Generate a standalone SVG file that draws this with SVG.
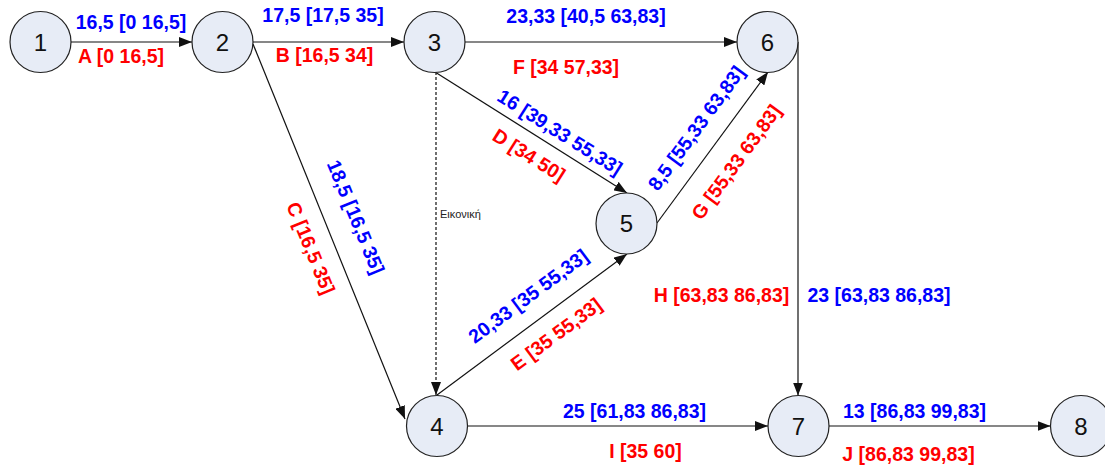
<svg xmlns="http://www.w3.org/2000/svg" width="1105" height="466" viewBox="0 0 1105 466">
<defs>
<style>
.node circle{fill:#e7ecf6;stroke:#222;stroke-width:1.2}
.node text{font-family:"Liberation Sans",Arial,sans-serif;font-size:24px;fill:#111;text-anchor:middle}
.edge{stroke:#111;stroke-width:1.2;fill:none;marker-end:url(#arr)}
.dash{stroke-dasharray:3,2}
.lb{font-family:"Liberation Sans",Arial,sans-serif;font-size:19.5px;font-weight:bold;text-anchor:middle}
.b{fill:#0000ff}
.r{fill:#ff0000}
.sm{font-family:"Liberation Sans",Arial,sans-serif;font-size:11px;fill:#222}
</style>
<marker id="arr" markerUnits="userSpaceOnUse" markerWidth="14" markerHeight="10" refX="13" refY="5" orient="auto">
<path d="M0,0 L13,5 L0,10 z" fill="#111"/>
</marker>
</defs>
<rect width="1105" height="466" fill="#fff"/>
<g id="connectors">
<line class="edge" x1="71" y1="42" x2="192" y2="42"/>
<line class="edge" x1="253" y1="42" x2="404" y2="42"/>
<line class="edge" x1="465" y1="42" x2="737" y2="42"/>
<line class="edge" x1="253" y1="44" x2="405" y2="419"/>
<line class="edge" x1="435" y1="72" x2="627" y2="193"/>
<line class="edge dash" x1="436" y1="72" x2="436" y2="395"/>
<line class="edge" x1="437" y1="395" x2="627" y2="254"/>
<line class="edge" x1="657" y1="223" x2="768" y2="72"/>
<line class="edge" x1="798" y1="42" x2="798" y2="395.5"/>
<line class="edge" x1="467" y1="426" x2="768" y2="426"/>
<line class="edge" x1="829" y1="426" x2="1050.5" y2="426"/>
</g>
<g id="labels">
<text class="lb b" x="131" y="29">16,5 [0 16,5]</text>
<text class="lb r" x="121" y="63">A [0 16,5]</text>
<text class="lb b" x="323" y="22">17,5 [17,5 35]</text>
<text class="lb r" x="324.5" y="62">B [16,5 34]</text>
<text class="lb b" x="586" y="23">23,33 [40,5 63,83]</text>
<text class="lb r" x="566" y="74">F [34 57,33]</text>
<text class="lb r" x="721.5" y="302">H [63,83 86,83]</text>
<text class="lb b" x="879" y="302">23 [63,83 86,83]</text>
<text class="lb b" x="634.5" y="418">25 [61,83 86,83]</text>
<text class="lb r" x="645.5" y="458">I [35 60]</text>
<text class="lb b" x="914.5" y="418">13 [86,83 99,83]</text>
<text class="lb r" x="908.5" y="461">J [86,83 99,83]</text>
<text class="lb b" transform="translate(560,132) rotate(32.2)" x="0" y="7">16 [39,33 55,33]</text>
<text class="lb r" transform="translate(529,155) rotate(32.2)" x="0" y="7">D [34 50]</text>
<text class="lb b" transform="translate(696,128) rotate(-53.7)" x="0" y="7">8,5 [55,33 63,83]</text>
<text class="lb r" transform="translate(736,162) rotate(-53.7)" x="0" y="7">G [55,33 63,83]</text>
<text class="lb b" transform="translate(356,217) rotate(67.7)" x="0" y="7">18,5 [16,5 35]</text>
<text class="lb r" transform="translate(311,248) rotate(67.7)" x="0" y="7">C [16,5 35]</text>
<text class="lb b" transform="translate(528,296) rotate(-36.6)" x="0" y="7">20,33 [35 55,33]</text>
<text class="lb r" transform="translate(556,334) rotate(-36.6)" x="0" y="7">E [35 55,33]</text>
<text class="sm" x="440" y="218">Εικονική</text>
</g>
<g id="n1" class="node"><circle cx="40.5" cy="42" r="30.5"/><text x="40.5" y="50.5">1</text></g>
<g id="n2" class="node"><circle cx="222.5" cy="42" r="30.5"/><text x="222.5" y="50.5">2</text></g>
<g id="n3" class="node"><circle cx="434.5" cy="42" r="30.5"/><text x="434.5" y="50.5">3</text></g>
<g id="n6" class="node"><circle cx="767.5" cy="42" r="30.5"/><text x="767.5" y="50.5">6</text></g>
<g id="n5" class="node"><circle cx="626.5" cy="223.5" r="30.5"/><text x="626.5" y="232">5</text></g>
<g id="n4" class="node"><circle cx="437" cy="426" r="30.5"/><text x="437" y="434.5">4</text></g>
<g id="n7" class="node"><circle cx="798.5" cy="426" r="30.5"/><text x="798.5" y="434.5">7</text></g>
<g id="n8" class="node"><circle cx="1081" cy="426" r="30.5"/><text x="1081" y="434.5">8</text></g>
</svg>
